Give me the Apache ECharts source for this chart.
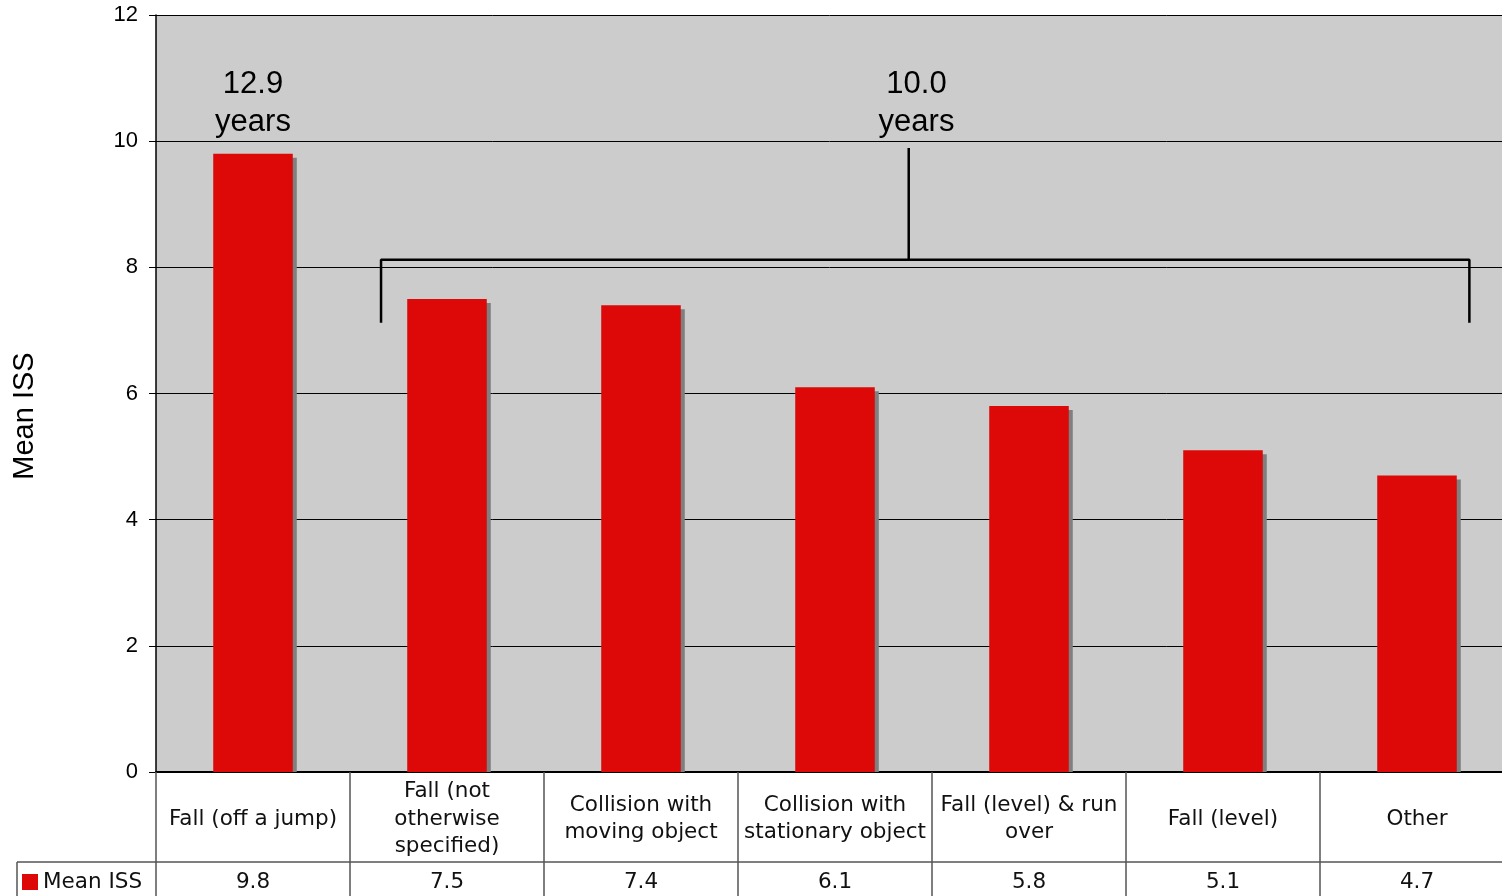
<!DOCTYPE html>
<html><head><meta charset="utf-8">
<script src="https://cdn.jsdelivr.net/npm/echarts@6/dist/echarts.min.js"></script>
<style>html,body{margin:0;padding:0;background:#fff}#c{width:1502px;height:896px}</style>
</head><body><div id="c"></div>
<script>
const categories = ["Fall (off a jump)", "Fall (not\notherwise\nspecified)", "Collision with\nmoving object", "Collision with\nstationary object", "Fall (level) & run\nover", "Fall (level)", "Other"];
const meanISS = [9.8, 7.5, 7.4, 6.1, 5.8, 5.1, 4.7];
const seriesName = "Mean ISS";
const yTicks = [0, 2, 4, 6, 8, 10, 12];
const annotationTexts = ["12.9\nyears", "10.0\nyears"];
const annotationPoints = [[0, 10.59], [3.42, 10.59]];
const bracketLine = [[0.66, 7.12], [0.66, 8.12], [6.27, 8.12], [6.27, 7.12]];
const bracketStem = [[3.38, 8.12], [3.38, 9.89]];

const chart = echarts.init(document.getElementById('c'), null, {renderer: 'canvas'});
const tableFont = 'DejaVu Sans';
const barRatio = 0.41;
chart.setOption({
  animation: false,
  backgroundColor: '#ffffff',
  grid: {left: 156, right: -12, top: 15, bottom: 124, outerBoundsMode: 'none', containLabel: false,
    show: true, backgroundColor: '#cccccc', borderWidth: 0},
  legend: {
    data: [seriesName], left: 22, top: 871, padding: 0, itemWidth: 16, itemHeight: 16, icon: 'rect', itemGap: 5,
    textStyle: {fontFamily: tableFont, fontSize: 21.5, color: '#111'}
  },
  xAxis: [
    {
      type: 'category', data: categories, position: 'bottom',
      axisLine: {show: true, lineStyle: {color: '#000', width: 2}},
      axisTick: {show: true, interval: 0, length: 124, lineStyle: {color: '#555', width: 1.5}},
      axisLabel: {interval: 0, margin: 47, verticalAlign: 'middle', lineHeight: 27.5, fontFamily: tableFont, fontSize: 21.5, color: '#111'}
    },
    {
      type: 'category', data: meanISS.map(v => v.toFixed(1)), position: 'bottom', offset: 90,
      axisLine: {show: true, lineStyle: {color: '#555', width: 1.5}},
      axisTick: {show: false},
      axisLabel: {interval: 0, margin: 20, verticalAlign: 'middle', fontFamily: tableFont, fontSize: 21.5, color: '#111'}
    },
    {type: 'value', min: -0.5, max: 6.5, show: false}
  ],
  yAxis: {
    type: 'value', min: yTicks[0], max: yTicks[yTicks.length - 1], interval: 2,
    axisLine: {show: true, onZero: false, lineStyle: {color: '#000', width: 1.5}},
    axisTick: {show: true, length: 7, lineStyle: {color: '#000'}},
    axisLabel: {margin: 18, fontFamily: 'Liberation Sans', fontSize: 22, color: '#000', padding: [3, 0, 0, 0]},
    splitLine: {show: true, lineStyle: {color: '#000', width: 1}}
  },
  series: [
    {
      type: 'custom', xAxisIndex: 0, data: meanISS.map((v, i) => [i, v]), silent: true, z: 1,
      renderItem: function (params, api) {
        const top = api.coord([api.value(0), api.value(1)]);
        const base = api.coord([api.value(0), 0]);
        const bw = api.size([1, 0])[0] * barRatio;
        return {type: 'rect', shape: {x: top[0] - bw / 2 + 4, y: top[1] + 4, width: bw, height: base[1] - top[1] - 4},
          style: {fill: '#7f7f7f'}};
      }
    },
    {
      name: seriesName, type: 'bar', xAxisIndex: 0, data: meanISS, barWidth: (barRatio * 100) + '%', z: 2,
      itemStyle: {color: '#dd0808'}
    },
    {
      type: 'line', xAxisIndex: 2, data: bracketLine, symbol: 'none', silent: true,
      lineStyle: {color: '#000', width: 2.5}
    },
    {
      type: 'line', xAxisIndex: 2, data: bracketStem, symbol: 'none', silent: true,
      lineStyle: {color: '#000', width: 2.5}
    },
    {
      type: 'scatter', xAxisIndex: 2, symbolSize: 0, silent: true,
      data: annotationPoints.map((p, i) => ({value: p, label: {formatter: annotationTexts[i]}})),
      label: {show: true, position: 'inside', fontFamily: 'Liberation Sans', fontSize: 31, lineHeight: 38, color: '#000', opacity: 1}
    }
  ],
  graphic: [
    {type: 'line', shape: {x1: 17, y1: 862, x2: 156, y2: 862}, style: {stroke: '#555', lineWidth: 1.5}},
    {type: 'line', shape: {x1: 17, y1: 862, x2: 17, y2: 896}, style: {stroke: '#555', lineWidth: 1.5}},
    {type: 'text', x: 25, y: 416, rotation: Math.PI / 2,
      style: {text: seriesName, fontFamily: 'Liberation Sans', fontSize: 29, fill: '#000', align: 'center', verticalAlign: 'middle'}}
  ]
});
</script></body></html>
